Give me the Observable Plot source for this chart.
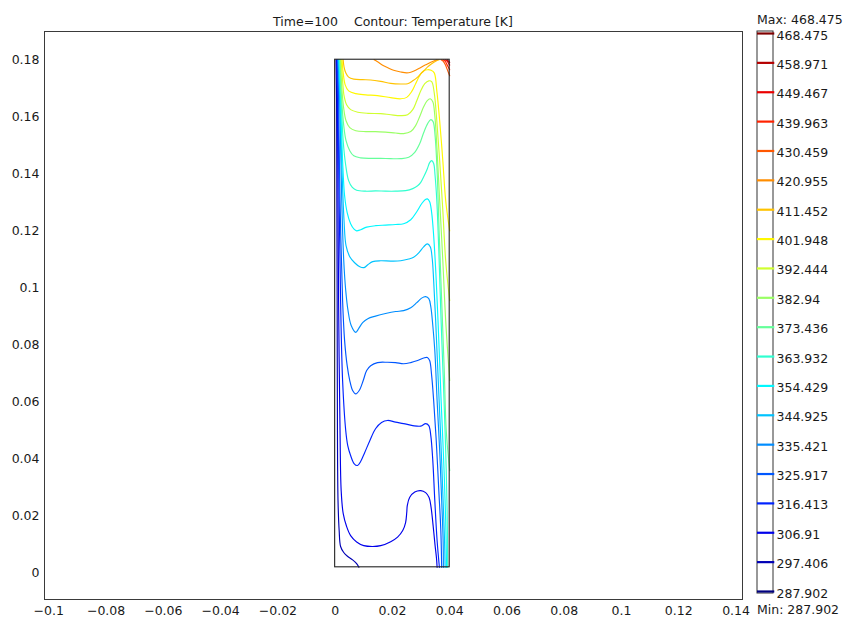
<!DOCTYPE html>
<html><head><meta charset="utf-8">
<script src="https://cdn.jsdelivr.net/npm/d3@7"></script>
<script src="https://cdn.jsdelivr.net/npm/@observablehq/plot@0.6"></script>
<style>
html,body{margin:0;padding:0;background:#fff;}
#wrap{position:relative;width:843px;height:617px;overflow:hidden;font-family:"DejaVu Sans",sans-serif;font-size:12.5px;color:#1a1a1a;}
#wrap svg{position:absolute;top:0;}
.lbl{position:absolute;white-space:pre;line-height:15px;}
</style></head><body>
<div id="wrap"></div>
<script>
// ---- data ----
const titleText = "Time=100    Contour: Temperature [K]";
const levels = [287.902,297.406,306.91,316.413,325.917,335.421,344.925,354.429,363.932,373.436,382.94,392.444,401.948,411.452,420.955,430.459,439.963,449.467,458.971,468.475];
const levelLabels = ["287.902","297.406","306.91","316.413","325.917","335.421","344.925","354.429","363.932","373.436","382.94","392.444","401.948","411.452","420.955","430.459","439.963","449.467","458.971","468.475"];
const xTicks = [-0.1,-0.08,-0.06,-0.04,-0.02,0,0.02,0.04,0.06,0.08,0.1,0.12,0.14];
const xTickLabels = ["\u22120.1","\u22120.08","\u22120.06","\u22120.04","\u22120.02","0","0.02","0.04","0.06","0.08","0.1","0.12","0.14"];
const yTicks = [0,0.02,0.04,0.06,0.08,0.1,0.12,0.14,0.16,0.18];
const yTickLabels = ["0","0.02","0.04","0.06","0.08","0.1","0.12","0.14","0.16","0.18"];
// geometry of the cavity (m)
const cellX = [0, 0.04];
const cellY = [0.002, 0.18];
// isotherm polylines, points [x mm, y mm]
const iso297 = [[0.3,180],[0.5,165.6],[0.6,130.6],[0.7,95.5],[0.8,49.9],[1.0,25.4],[1.4,14.9],[1.9,9.3],[3.0,7.2],[4.4,5.8],[6.1,4.6],[7.5,3.3],[8.3,2.0]];
const iso306 = [[0.5,180],[0.8,165.6],[1.0,130.6],[1.2,95.5],[1.7,49.9],[2.1,28.9],[2.8,20.9],[4.0,16.3],[5.4,13.1],[7.5,10.9],[10.0,9.6],[13.1,9.3],[15.9,9.6],[19.4,11.0],[21.8,12.6],[23.6,14.9],[24.6,17.7],[25.0,21.2],[25.2,23.7],[26.0,26.5],[27.8,28.4],[29.9,28.9],[31.6,28.2],[32.8,26.5],[33.5,23.0],[34.2,16.7],[34.9,9.6],[35.4,5.1],[35.6,2.0]];
const iso316 = [[0.7,180],[1.0,165.6],[1.4,130.6],[1.9,95.5],[2.6,67.5],[3.7,49.9],[4.4,44.7],[5.4,41.2],[6.6,38.4],[7.8,37.7],[8.9,39.1],[10.3,42.2],[12.1,46.4],[14.1,50.6],[16.2,52.8],[18.3,53.5],[21.1,52.9],[23.9,52.4],[27.1,51.7],[29.9,51.5],[31.6,52.4],[32.7,51.7],[33.4,48.2],[34.1,39.4],[34.8,25.4],[35.6,11.4],[36.4,2.0]];
const iso325 = [[0.9,180],[1.2,165.6],[1.7,130.6],[2.6,95.5],[3.3,81.5],[4.2,72.7],[5.1,67.5],[6.1,64.0],[7.2,62.8],[8.4,64.0],[9.8,67.5],[11.0,71.0],[12.4,72.7],[14.8,73.8],[18.3,73.9],[21.1,73.8],[23.9,73.4],[26.4,73.8],[28.8,74.5],[30.9,75.4],[32.2,75.6],[33.0,74.5],[33.7,69.2],[34.4,60.5],[35.3,46.4],[36.2,28.9],[36.9,14.9],[37.2,2.0]];
const iso335 = [[1.0,180],[1.6,165.6],[2.3,130.6],[3.0,109.5],[3.7,99.0],[4.5,92.0],[5.6,86.8],[7.2,84.4],[8.2,85.7],[9.6,87.8],[11.4,89.2],[14.1,90.1],[17.6,91.0],[21.1,91.7],[23.9,92.0],[26.4,93.0],[28.5,94.8],[30.2,96.4],[31.6,96.9],[32.7,96.2],[33.4,93.4],[34.1,86.8],[34.8,78.0],[35.6,60.5],[36.5,42.9],[37.2,25.4],[37.7,11.4],[37.8,2.0]];
const iso344 = [[1.2,180],[1.7,165.6],[2.4,141.1],[3.1,123.6],[3.8,114.8],[5.1,110.9],[6.8,108.8],[8.6,107.4],[10.1,107.1],[11.4,108.1],[13.1,109.2],[15.9,109.5],[19.4,109.4],[22.9,109.5],[25.7,110.1],[27.4,110.7],[29.2,112.3],[30.9,114.4],[32.2,115.4],[33.2,114.4],[33.9,110.2],[34.4,102.5],[35.1,88.5],[36.0,67.5],[36.9,46.4],[37.7,25.4],[38.2,11.4],[38.4,2.0]];
const iso354 = [[1.4,180],[1.9,165.6],[2.6,144.6],[3.3,132.3],[4.2,126.4],[5.4,122.5],[6.6,120.6],[7.5,120.0],[8.9,120.4],[11.0,121.3],[14.1,121.8],[17.6,122.0],[21.1,122.2],[23.9,122.5],[26.4,123.9],[28.5,126.7],[30.2,129.5],[31.4,130.9],[32.2,131.2],[33.0,130.2],[33.7,126.4],[34.4,118.3],[35.3,102.5],[36.2,81.5],[37.0,60.5],[37.9,39.4],[38.6,18.4],[38.9,2.0]];
const iso363 = [[1.6,180],[2.1,165.6],[2.8,151.6],[3.7,142.9],[4.7,137.6],[6.0,135.2],[7.5,134.2],[10.7,133.9],[14.1,134.0],[17.6,133.9],[21.1,133.9],[24.6,134.1],[27.1,134.8],[28.8,135.8],[29.9,137.0],[31.1,139.3],[32.2,141.8],[33.0,143.9],[33.7,144.6],[34.4,143.6],[34.9,139.3],[35.5,130.6],[36.2,113.0],[37.0,88.5],[37.9,64.0],[38.6,42.9],[39.1,21.9],[39.3,2.0]];
const iso373 = [[1.7,180],[2.3,165.6],[3.0,156.9],[3.8,151.6],[5.1,148.1],[6.5,146.3],[8.9,145.6],[12.4,145.4],[15.9,145.4],[19.4,145.3],[22.9,145.3],[25.7,145.8],[27.8,147.5],[29.5,150.5],[30.9,154.4],[32.3,157.6],[33.4,159.0],[34.2,158.3],[34.9,153.3],[35.6,141.1],[36.3,120.0],[37.2,95.5],[38.1,71.0],[38.8,49.9],[40,35.9]];
const iso382 = [[1.9,180],[2.4,169.1],[3.0,162.8],[3.8,158.6],[5.1,156.2],[7.2,155.1],[10.7,154.8],[14.1,154.8],[17.6,154.6],[21.1,154.3],[23.9,154.1],[26.4,154.8],[28.1,156.9],[29.5,160.0],[30.9,163.5],[32.1,165.6],[33.2,166.3],[34.1,165.3],[34.8,160.4],[35.6,148.1],[36.5,130.6],[37.6,109.5],[38.6,88.5],[40,67.5]];
const iso392 = [[2.1,180],[2.6,172.6],[3.1,167.4],[4.0,164.2],[5.4,162.5],[7.9,161.6],[11.4,161.2],[15.9,161.1],[19.4,160.7],[22.9,160.4],[25.3,160.7],[27.1,162.5],[28.5,165.6],[29.9,169.1],[31.3,171.6],[32.7,172.6],[33.7,172.3],[34.6,168.4],[35.5,158.6],[36.5,144.6],[37.6,127.1],[38.6,109.5],[40,95.5]];
const iso401 = [[2.4,180],[2.8,175.4],[3.5,171.2],[4.7,169.1],[7.2,168.1],[10.7,167.7],[14.8,167.4],[19.4,166.7],[22.9,166.3],[25.0,166.8],[26.7,168.8],[28.1,171.6],[29.5,174.4],[30.9,176.1],[32.3,176.5],[33.5,176.3],[34.6,175.4],[35.5,169.1],[36.5,158.6],[37.6,144.6],[38.6,130.6],[40,120.0]];
const iso411 = [[2.8,180],[3.1,177.5],[3.7,175.4],[4.7,173.9],[6.5,173.2],[9.6,173.0],[12.4,172.9],[15.9,172.4],[19.4,171.7],[22.9,171.5],[25.3,171.6],[27.1,172.6],[28.7,173.8],[29.9,175.1],[31.0,176.1],[32.3,177.5],[33.7,178.6],[35.1,179.5],[36.3,180]];
const iso420 = [[13.6,180],[14.8,179.3],[16.6,178.1],[18.2,177.3],[20.4,176.3],[22.9,175.7],[25.0,175.4],[26.4,175.6],[28.1,176.3],[29.9,177.3],[31.6,178.2],[33.4,179.1],[34.8,179.7],[35.6,180]];
const iso430 = [[37.0,180],[37.7,179.5],[38.4,178.4],[39.1,176.7],[40,174.4]];
const iso439 = [[37.7,180],[38.4,179.5],[39.1,178.2],[40,176.5]];
const iso449 = [[38.4,180],[39.1,179.5],[40,178.1]];
const iso458 = [[39.1,180],[40,179.1]];
const isoCurves = [iso297,iso306,iso316,iso325,iso335,iso344,iso354,iso363,iso373,iso382,iso392,iso401,iso411,iso420,iso430,iso439,iso449,iso458];
const isoLevelIndex = [1,2,3,4,5,6,7,8,9,10,11,12,13,14,15,16,17,18];

// ---- build ----
function jet(t){
  const c = v => Math.max(0, Math.min(1, v));
  return d3.rgb(255*c(1.5-Math.abs(4*t-3)), 255*c(1.5-Math.abs(4*t-2)), 255*c(1.5-Math.abs(4*t-1))).formatHex();
}
const colorScale = {type: "linear", domain: [levels[0], levels[levels.length-1]], interpolate: jet};
const rows = [];
isoCurves.forEach((pts, i) => pts.forEach(p => rows.push({id: i, level: levels[isoLevelIndex[i]], x: p[0]/1000, y: p[1]/1000})));
const cell = [{x1: cellX[0], x2: cellX[1], y1: cellY[0], y2: cellY[1]}];
const font = {fontFamily: "DejaVu Sans", fontSize: "12.5px", color: "#1a1a1a", background: "transparent", overflow: "visible"};

const main = Plot.plot({
  width: 843, height: 617,
  marginLeft: 44, marginRight: 101, marginTop: 31, marginBottom: 18,
  style: font,
  x: {domain: [-0.1015, 0.14225], ticks: xTicks, tickSize: 0, tickPadding: 7, tickFormat: d => xTickLabels[xTicks.indexOf(d)], label: null},
  y: {domain: [-0.00929, 0.1899], ticks: yTicks, tickSize: 0, tickPadding: 5, tickFormat: d => yTickLabels[yTicks.indexOf(d)], label: null},
  color: colorScale,
  marks: [
    Plot.frame({stroke: "#3a3a3a"}),
    Plot.line(rows, {x: "x", y: "y", z: "id", stroke: "level", curve: "catmull-rom", strokeWidth: 1.15}),
    Plot.rect(cell, {x1: "x1", x2: "x2", y1: "y1", y2: "y2", fill: "none", stroke: "#222", strokeWidth: 1.1})
  ]
});
main.style.left = "0px";

const bar = Plot.plot({
  width: 98, height: 617,
  marginLeft: 12, marginRight: 70, marginTop: 33, marginBottom: 26,
  style: font,
  x: {domain: [0, 1], axis: null},
  y: {domain: [levels[0], levels[levels.length-1]], axis: null},
  color: colorScale,
  marks: [
    Plot.rect([0], {x1: () => 0, x2: () => 1, y1: () => levels[0], y2: () => levels[levels.length-1], fill: "none", stroke: "#333", insetTop: -2, insetBottom: -2}),
    Plot.ruleY(levels, {y: d => d, x1: () => 0, x2: () => 1.08, stroke: d => d, strokeWidth: 2.2}),
    Plot.text(levels, {x: () => 1, y: d => d, text: (d, i) => levelLabels[i], textAnchor: "start", dx: 3, dy: 2, fill: "#1a1a1a"})
  ]
});
bar.style.left = "745px";

const wrap = document.getElementById("wrap");
wrap.appendChild(main);
wrap.appendChild(bar);
function addLabel(text, css){ const d = document.createElement("div"); d.className = "lbl"; d.textContent = text; Object.assign(d.style, css); wrap.appendChild(d); }
addLabel(titleText, {left: "44px", width: "698px", textAlign: "center", top: "14px"});
addLabel("Max: " + levelLabels[levelLabels.length-1], {left: "757px", top: "12px"});
addLabel("Min: " + levelLabels[0], {left: "757px", top: "602px"});
</script></body></html>
